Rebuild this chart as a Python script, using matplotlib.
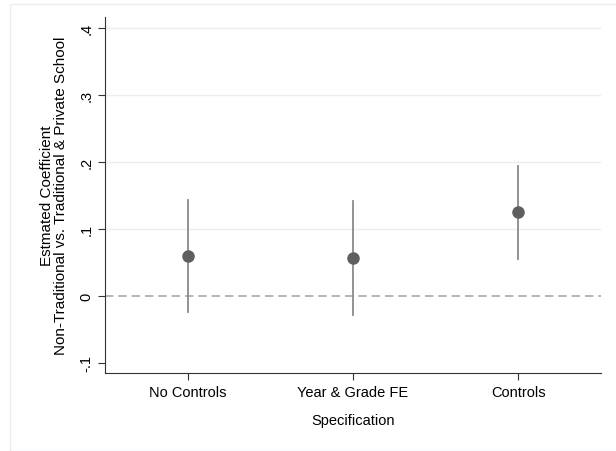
import matplotlib
matplotlib.use("Agg")
import matplotlib.pyplot as plt
from matplotlib.patches import Rectangle

specs = ["No Controls", "Year & Grade FE", "Controls"]
coef = [0.060, 0.057, 0.125]
ci_low = [-0.024, -0.028, 0.055]
ci_high = [0.143, 0.142, 0.194]
yticks = [-0.1, 0, 0.1, 0.2, 0.3, 0.4]
ytick_labels = ["-.1", "0", ".1", ".2", ".3", ".4"]

plt.rcParams['font.family'] = ['Liberation Sans', 'DejaVu Sans']
fig = plt.figure(figsize=(6.16, 4.52), dpi=100)
fig.patches.append(Rectangle((10/616, 0), 1, 1 - 5/452, transform=fig.transFigure,
                             fill=False, edgecolor='#e8eef0', linewidth=1.0))
ax = fig.add_axes([105/616, 1 - 374/452, 496/616, 356/452])

x = list(range(1, len(specs) + 1))
for xi, lo, hi in zip(x, ci_low, ci_high):
    ax.plot([xi, xi], [lo, hi], color='#8a8a8a', linewidth=1.3, zorder=3)
ax.plot(x, coef, 'o', color='#5f5f5f', markersize=8, zorder=4)
ax.axhline(0, color='#a8a8a8', linestyle=(0, (5, 3)), linewidth=1.2, zorder=2)

for t in [0.1, 0.2, 0.3, 0.4]:
    ax.axhline(t, color='#e6eff1', linewidth=1.0, zorder=1)

ax.set_xlim(0.5, 3.5)
ax.set_ylim(-0.115, 0.417)
ax.set_xticks(x)
ax.set_xticklabels(specs, fontsize=10.5)
ax.set_yticks(yticks)
ax.set_yticklabels(ytick_labels, fontsize=10.5, rotation=90, va='center')
ax.tick_params(axis='both', direction='out', length=5, width=0.8, color='#333333')
ax.spines['top'].set_visible(False)
ax.spines['right'].set_visible(False)
ax.spines['left'].set_color('#333333')
ax.spines['bottom'].set_color('#333333')
ax.set_xlabel("Specification", fontsize=10.5, labelpad=10)
ax.set_ylabel("Estmated Coefficient\nNon-Traditional vs. Traditional & Private School",
              fontsize=11, labelpad=8, linespacing=1.0)

fig.savefig("out.png", dpi=100)
